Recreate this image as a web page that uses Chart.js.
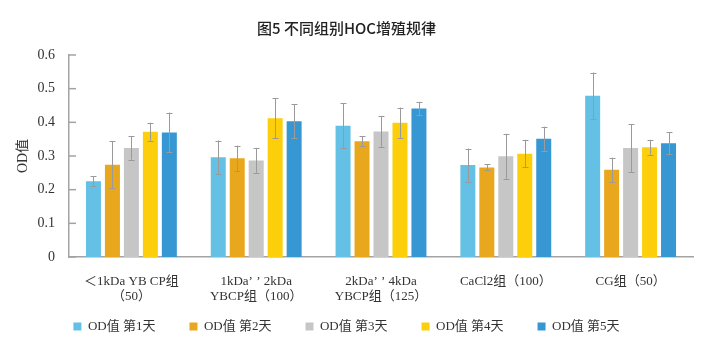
<!DOCTYPE html>
<html>
<head>
<meta charset="utf-8">
<script src="https://cdn.jsdelivr.net/npm/chart.js@4/dist/chart.umd.min.js"></script>
<style>
  html, body { margin: 0; padding: 0; background: #fff; }
  #wrap { width: 709px; height: 352px; }
</style>
</head>
<body>
<div id="wrap"><canvas id="hocChart" width="709" height="352"></canvas></div>
<script>
// categories (groups)
const groups = [
    ['＜1kDa YB CP组', '（50）'],
    ['1kDa’ ’ 2kDa', 'YBCP组（100）'],
    ['2kDa’ ’ 4kDa', 'YBCP组（125）'],
    'CaCl2组（100）',
    'CG组（50）'
];
const dayLabels = ['OD值 第1天', 'OD值 第2天', 'OD值 第3天', 'OD值 第4天', 'OD值 第5天'];

// mean OD per day, one value per group
const day1 = [0.225, 0.296, 0.390, 0.273, 0.479];
const day2 = [0.274, 0.293, 0.344, 0.266, 0.259];
const day3 = [0.324, 0.287, 0.373, 0.299, 0.324];
const day4 = [0.372, 0.412, 0.399, 0.307, 0.326];
const day5 = [0.370, 0.403, 0.441, 0.351, 0.338];

// error (+/-) per day
const err1 = [0.015, 0.050, 0.067, 0.049, 0.069];
const err2 = [0.070, 0.038, 0.015, 0.009, 0.036];
const err3 = [0.035, 0.037, 0.046, 0.067, 0.071];
const err4 = [0.027, 0.059, 0.045, 0.041, 0.022];
const err5 = [0.059, 0.050, 0.020, 0.036, 0.033];

const yTicks = [0, 0.1, 0.2, 0.3, 0.4, 0.5, 0.6];

const COLORS = ['#64c0e4', '#e8a71c', '#c6c6c6', '#fdcf0a', '#3697d3'];
const SERIF = "'Liberation Serif', 'Noto Sans CJK SC', serif";
const AXIS = '#a3a3a3';

const series = [day1, day2, day3, day4, day5];
const errors = [err1, err2, err3, err4, err5];

// error bars drawn from the data through the y scale
const errorBars = {
    id: 'errorBars',
    afterDatasetsDraw: function(chart) {
        var ctx = chart.ctx, y = chart.scales.y;
        ctx.save();
        ctx.strokeStyle = '#9a9a9a';
        ctx.lineWidth = 1;
        chart.data.datasets.forEach(function(ds, di) {
            var meta = chart.getDatasetMeta(di);
            meta.data.forEach(function(bar, i) {
                var v = ds.data[i], e = errors[di][i];
                var x = Math.round(bar.x) + 0.5;
                var y1 = y.getPixelForValue(v + e), y2 = y.getPixelForValue(v - e);
                ctx.beginPath();
                ctx.moveTo(x, y1); ctx.lineTo(x, y2);
                ctx.moveTo(x - 3, Math.round(y1) + 0.5); ctx.lineTo(x + 3, Math.round(y1) + 0.5);
                ctx.moveTo(x - 3, Math.round(y2) + 0.5); ctx.lineTo(x + 3, Math.round(y2) + 0.5);
                ctx.stroke();
            });
        });
        ctx.restore();
    }
};

// small inside tick marks on the y axis
const innerTicks = {
    id: 'innerTicks',
    afterDraw: function(chart) {
        var ctx = chart.ctx, y = chart.scales.y, left = chart.chartArea.left;
        ctx.save();
        ctx.strokeStyle = AXIS;
        ctx.lineWidth = 1.5;
        y.ticks.forEach(function(t) {
            var py = y.getPixelForValue(t.value);
            ctx.beginPath();
            ctx.moveTo(left, py); ctx.lineTo(left + 7, py);
            ctx.stroke();
        });
        ctx.restore();
    }
};

new Chart(document.getElementById('hocChart').getContext('2d'), {
    type: 'bar',
    data: {
        labels: groups,
        datasets: series.map(function(d, i) {
            return {
                label: dayLabels[i],
                data: d,
                backgroundColor: COLORS[i],
                borderWidth: 0,
                barPercentage: 0.79,
                categoryPercentage: 0.76
            };
        })
    },
    options: {
        responsive: false,
        animation: false,
        layout: { padding: { left: 0, right: 16, top: 0, bottom: 9 } },
        plugins: {
            title: {
                display: true,
                text: '图5 不同组别HOC增殖规律',
                color: '#222',
                font: { family: "'Noto Sans CJK SC', sans-serif", size: 15, weight: '500' },
                padding: { top: 19, bottom: 18 }
            },
            legend: {
                position: 'bottom',
                labels: {
                    boxWidth: 8, boxHeight: 8, padding: 34,
                    color: '#333',
                    font: { family: SERIF, size: 13 }
                }
            },
            tooltip: { enabled: false }
        },
        scales: {
            x: {
                grid: { display: false, drawTicks: false },
                border: { display: true, color: AXIS, width: 1.5 },
                // mirror keeps the two-line labels from being clipped to the short axis box,
                // negative padding puts them back under the axis
                ticks: { color: '#333', padding: -32, mirror: true, maxRotation: 0, autoSkip: false,
                         font: { family: SERIF, size: 13 } },
                afterFit: function(s) { s.height = 29; }
            },
            y: {
                min: 0, max: 0.6,
                afterBuildTicks: function(s) { s.ticks = yTicks.map(function(v) { return { value: v }; }); },
                grid: { display: false, drawTicks: false },
                border: { display: true, color: AXIS, width: 1.5 },
                ticks: { color: '#333', padding: 14, font: { family: SERIF, size: 14 },
                         callback: function(v) { return String(v); } },
                title: { display: true, text: 'OD值', color: '#333', padding: { top: 15, bottom: 0 },
                         font: { family: SERIF, size: 14 } },
                afterFit: function(s) { s.width = 69; }
            }
        }
    },
    plugins: [errorBars, innerTicks]
});
</script>
</body>
</html>
